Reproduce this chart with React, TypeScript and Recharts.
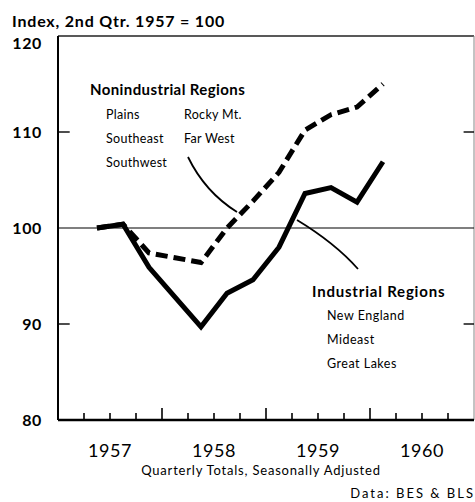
import { LineChart, Line, XAxis, YAxis, ReferenceLine } from 'recharts';

const quarters = ['1957 Q2', '1957 Q3', '1957 Q4', '1958 Q1', '1958 Q2', '1958 Q3', '1958 Q4', '1959 Q1', '1959 Q2', '1959 Q3', '1959 Q4', '1960 Q1'];
const industrial = [100, 100.4, 95.9, 92.8, 89.7, 93.2, 94.6, 98.0, 103.6, 104.2, 102.7, 106.9];
const nonindustrial = [100, 100.4, 97.4, 96.9, 96.4, 100.0, 102.8, 105.8, 110.2, 111.8, 112.6, 115.0];
const years = ['1957', '1958', '1959', '1960'];
const yTicks = [80, 90, 100, 110, 120];
const nonIndRegions = ['Plains', 'Southeast', 'Southwest', 'Rocky Mt.', 'Far West'];
const indRegions = ['New England', 'Mideast', 'Great Lakes'];

// x = quarters counted from start of 1957 (1957 Q2 centred at 1.5)
const data = quarters.map((q, i) => ({ q, x: i + 1.5, ind: industrial[i], non: nonindustrial[i] }));
const qTicks = Array.from({ length: 15 }, (_, i) => i + 1);

const FONT = 'Lato, "DejaVu Sans", sans-serif';

const XTick = (props: any) => {
  const { x, y, payload } = props;
  const v = payload.value;
  const major = v % 4 === 0;
  const yr = v % 4 === 2 ? years[(v - 2) / 4] : null;
  return (
    <g>
      <line x1={x} x2={x} y1={y} y2={y - (major ? 12 : 7)} stroke="#000" strokeWidth={1.6} />
      {yr && (
        <text x={x} y={y + 37} textAnchor="middle" fontSize={18} fontFamily={FONT} fill="#000" letterSpacing={0.5}>
          {yr}
        </text>
      )}
    </g>
  );
};

const YTick = (props: any) => {
  const { x, y, payload } = props;
  const off = payload.value === 120 ? 7 : 0;
  return (
    <text x={x} y={y + off + 6} textAnchor="end" fontSize={16} fontWeight={700} fontFamily={FONT} fill="#000" letterSpacing={0.6}>
      {payload.value}
    </text>
  );
};

export default function App() {
  return (
    <div style={{ position: 'absolute', left: 0, top: 0, width: 475, height: 502, background: '#fff' }}>
      <LineChart width={475} height={502} data={data} margin={{ top: 36, right: 1, left: 0, bottom: 0 }}>
        <XAxis
          dataKey="x"
          type="number"
          domain={[0, 16]}
          ticks={qTicks}
          interval={0}
          height={82}
          axisLine={{ stroke: '#000', strokeWidth: 2.5 }}
          tickLine={false}
          tickSize={0}
          tickMargin={0}
          tick={<XTick />}
        />
        <YAxis
          type="number"
          domain={[80, 120]}
          ticks={yTicks}
          width={58}
          axisLine={{ stroke: '#000', strokeWidth: 2 }}
          tickLine={false}
          tickSize={0}
          tickMargin={16}
          tick={<YTick />}
        />
        <ReferenceLine y={120} stroke="#222" strokeWidth={1.4} />
        <ReferenceLine x={16} stroke="#888" strokeWidth={1} />
        <ReferenceLine y={100} stroke="#000" strokeWidth={1.2} />
        <ReferenceLine segment={[{ x: 0, y: 110 }, { x: 0.45, y: 110 }]} stroke="#000" strokeWidth={1.4} />
        <ReferenceLine segment={[{ x: 0, y: 90 }, { x: 0.45, y: 90 }]} stroke="#000" strokeWidth={1.4} />
        <ReferenceLine segment={[{ x: 15.6, y: 110 }, { x: 16, y: 110 }]} stroke="#000" strokeWidth={1.4} />
        <ReferenceLine segment={[{ x: 15.6, y: 90 }, { x: 16, y: 90 }]} stroke="#000" strokeWidth={1.4} />
        <Line
          dataKey="non"
          type="linear"
          stroke="#000"
          strokeWidth={5}
          strokeDasharray="12 6"
          dot={false}
          isAnimationActive={false}
        />
        <Line dataKey="ind" type="linear" stroke="#000" strokeWidth={5} dot={false} isAnimationActive={false} />
      </LineChart>
      <svg width={475} height={502} style={{ position: 'absolute', left: 0, top: 0, pointerEvents: 'none' }}>
        <text x={12} y={27} fontSize={16} fontWeight={700} fontFamily={FONT} fill="#000" letterSpacing={0.8}>
          Index, 2nd Qtr. 1957 = 100
        </text>
        <text x={90} y={95} fontSize={15} fontWeight={700} fontFamily={FONT} fill="#000" letterSpacing={0.4}>
          Nonindustrial Regions
        </text>
        <g fontSize={12.5} fontFamily={FONT} fill="#000" letterSpacing={0.3}>
          <text x={106} y={119}>{nonIndRegions[0]}</text>
          <text x={106} y={143}>{nonIndRegions[1]}</text>
          <text x={106} y={167}>{nonIndRegions[2]}</text>
          <text x={184} y={119}>{nonIndRegions[3]}</text>
          <text x={184} y={143}>{nonIndRegions[4]}</text>
        </g>
        <path d="M188,157 Q205,192 237,212" fill="none" stroke="#000" strokeWidth={1.8} />
        <text x={312} y={297} fontSize={15} fontWeight={700} fontFamily={FONT} fill="#000" letterSpacing={0.8}>
          Industrial Regions
        </text>
        <g fontSize={12.5} fontFamily={FONT} fill="#000" letterSpacing={0.5}>
          <text x={327} y={320}>{indRegions[0]}</text>
          <text x={327} y={344}>{indRegions[1]}</text>
          <text x={327} y={368}>{indRegions[2]}</text>
        </g>
        <path d="M297,220 Q335,243 358,269" fill="none" stroke="#000" strokeWidth={1.8} />
        <text x={261} y={475} textAnchor="middle" fontSize={13} fontFamily={FONT} fill="#000" letterSpacing={0.8}>
          Quarterly Totals, Seasonally Adjusted
        </text>
        <text x={475} y={498} textAnchor="end" fontSize={13} fontFamily={FONT} fill="#000" letterSpacing={2}>
          Data:  BES &amp; BLS
        </text>
      </svg>
    </div>
  );
}
